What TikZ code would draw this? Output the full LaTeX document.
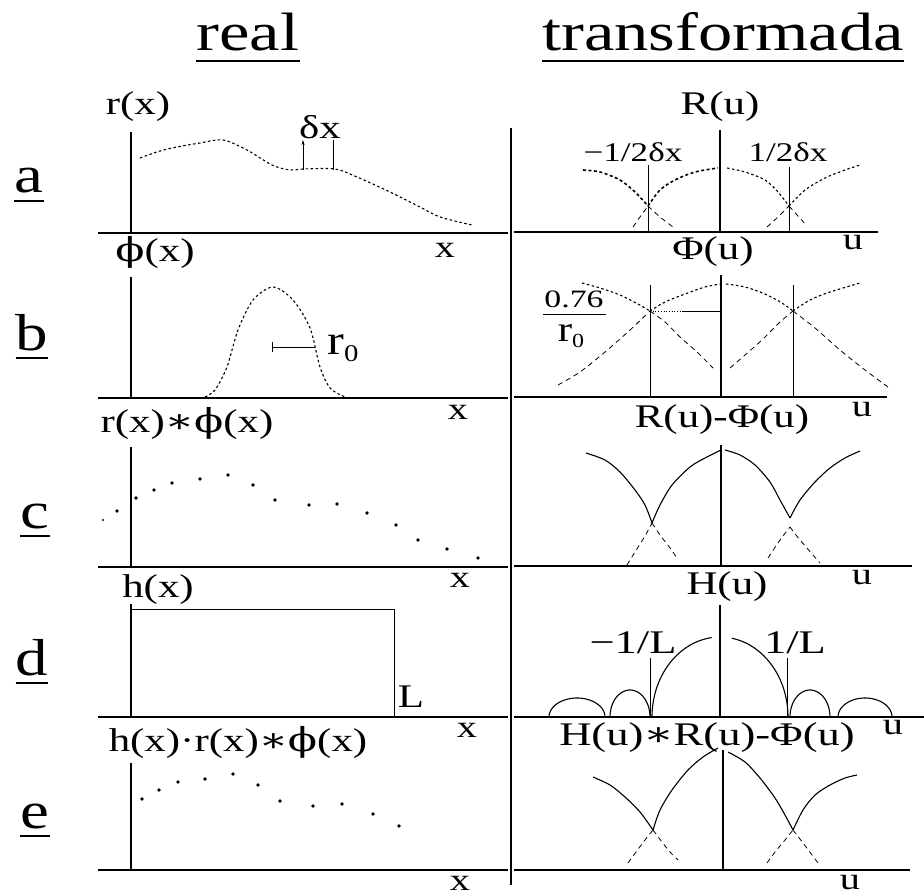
\documentclass[tikz,border=0pt]{standalone}
\usepackage{graphicx}
\usepackage{fontspec}
\setmainfont{Liberation Serif}
\newfontfamily\djs{DejaVu Serif}
\usetikzlibrary{arrows.meta}
\newcommand{\hs}[2][1.3]{\scalebox{#1}[1]{#2}}
\newcommand{\cv}{{\djs\char"2217}}
\newcommand{\sphi}{{\djs\char"03D5}}
\begin{document}
\begin{tikzpicture}[x=1pt,y=-1pt,
  haxis/.style={line width=2.2pt},
  vaxis/.style={line width=2.8pt},
  thinl/.style={line width=0.7pt},
  dotc/.style={line width=1.1pt, dash pattern=on 2.5pt off 2.5pt},
  dotcb/.style={line width=1.6pt, dash pattern=on 3pt off 2.5pt},
  dashc/.style={line width=0.8pt, dash pattern=on 5pt off 4pt},
  solc/.style={line width=1.1pt},
  lbl/.style={inner sep=0pt, font=\fontsize{33}{36}\selectfont},
  axl/.style={inner sep=0pt, font=\fontsize{31}{33}\selectfont},
  small/.style={inner sep=0pt, font=\fontsize{27}{30}\selectfont},
  rowl/.style={inner sep=0pt, anchor=base, font=\fontsize{52}{56}\selectfont},
  ttl/.style={inner sep=0pt, anchor=base, font=\fontsize{54}{60}\selectfont},
  uline/.style={line width=2pt}
]
\useasboundingbox (0,0) rectangle (924,896);
\fill[white] (0,0) rectangle (924,896);

% titles
\node[ttl] (treal) at (248,51) {\hs[1.27]{real}};
\node[ttl] (ttrans) at (723,51) {\hs[1.27]{transformada}};
\draw[uline] ([yshift=-10pt]treal.base west) -- ([yshift=-10pt]treal.base east);
\draw[uline] ([yshift=-10pt]ttrans.base west) -- ([yshift=-10pt]ttrans.base east);

% row letters
\foreach \n/\t/\yy/\xx in {ra/a/193/29, rb/b/350/32, rc/c/528/35, rd/d/675/32, re/e/828/35}{
  \node[rowl] (\n) at (\xx,\yy) {\hs[1.25]{\t}};
  \draw[uline] ([yshift=-8pt]\n.base west) -- ([yshift=-8pt]\n.base east);
}

% divider
\coordinate (dvt) at (511,128);
\coordinate (dvb) at (511,885);
\draw[vaxis] (dvt) -- (dvb);

% ---------- axes ----------
\foreach \n/\ya/\yt in {a/233/132, b/398/277, c/567/447, d/717/604, e/870/763}{
  \coordinate (lh\n0) at (98,\ya);
  \coordinate (lh\n1) at (508,\ya);
  \coordinate (lv\n0) at (131,\ya);
  \coordinate (lv\n1) at (131,\yt);
  \draw[haxis] (lh\n0) -- (lh\n1);
  \draw[vaxis] (lv\n0) -- (lv\n1);
}
\foreach \n/\ya/\yt/\xe/\xv in {a/232/130/878/720, b/397/275/887/721, c/566/445/912/721, d/717/605/924/720, e/870/750/910/723}{
  \coordinate (rh\n0) at (514,\ya);
  \coordinate (rh\n1) at (\xe,\ya);
  \coordinate (rv\n0) at (\xv,\ya);
  \coordinate (rv\n1) at (\xv,\yt);
  \draw[haxis] (rh\n0) -- (rh\n1);
  \draw[vaxis] (rv\n0) -- (rv\n1);
}

% ---------- labels ----------
\node[lbl] (lra) at (138,107) {\hs{r(x)}};
\node[lbl] (lphi) at (155,252) {\hs{\sphi(x)}};
\node[lbl] (lrc) at (187,423) {\hs{r(x)\cv\sphi(x)}};
\node[lbl] (lhx) at (158,590) {\hs{h(x)}};
\node[lbl] (lhe) at (238,742) {\hs{h(x)·r(x)\cv\sphi(x)}};
\node[lbl] (lRu) at (720,107) {\hs{R(u)}};
\node[lbl] (lPh) at (713,252) {\hs{Φ(u)}};
\node[lbl] (lRP) at (722,420) {\hs{R(u)-Φ(u)}};
\node[lbl] (lHu) at (727,587) {\hs{H(u)}};
\node[lbl] (lHR) at (707,738) {\hs[1.35]{H(u)\cv R(u)-Φ(u)}};
\foreach \n/\xx/\yy in {xa/445/250, xb/458/412, xc/460/580, xd/467/730, xe/460/883}
  \node[axl] (\n) at (\xx,\yy) {\hs{x}};
\foreach \n/\xx/\yy in {ua/853/243, ub/862/410, uc/862/578, ud/893/728, ue/850/883}
  \node[axl] (\n) at (\xx,\yy) {\hs{u}};

% ---------- panel a ----------
\draw[dotc] plot[smooth] coordinates {(140,158)(160,151)(177,147)(200,143)(223,140)(247,150)(272,165)(290,170)(303,169)(335,169)(357,177)(390,192)(420,207)(440,217)(472,225)};
\coordinate (dx1b) at (303,170); \coordinate (dx1t) at (303,140);
\coordinate (dx2b) at (333,170); \coordinate (dx2t) at (333,140);
\draw[thinl,-{Stealth[length=5pt,width=3pt]}] (dx1b) -- (dx1t);
\draw[thinl] (dx2b) -- (dx2t);
\node[lbl] (ldx) at (320,127) {\hs{δx}};

\node[small] (lmh) at (633,152) {\hs{−1/2δx}};
\node[small] (lph) at (788,152) {\hs{1/2δx}};
\coordinate (vha0) at (648,232); \coordinate (vha1) at (648,165);
\coordinate (vhb0) at (789,232); \coordinate (vhb1) at (789,167);
\draw[thinl] (vha0) -- (vha1);
\draw[thinl] (vhb0) -- (vhb1);
\draw[dotcb] plot[smooth] coordinates {(583,170)(600,172)(620,180)(635,192)(648,206)};
\draw[dashc] plot[smooth] coordinates {(648,206)(660,217)(673,227)};
\draw[dashc] plot[smooth] coordinates {(633,227)(640,217)(648,206)};
\draw[dotcb] plot[smooth] coordinates {(648,206)(660,190)(675,180)(695,172)(718,168)};
\draw[dotc] plot[smooth] coordinates {(727,168)(745,172)(765,180)(778,192)(789,206)};
\draw[dashc] plot[smooth] coordinates {(789,206)(798,216)(807,226)};
\draw[dashc] plot[smooth] coordinates {(767,227)(778,217)(789,206)};
\draw[dotc] plot[smooth] coordinates {(789,206)(805,190)(825,178)(845,170)(860,165)};

% ---------- panel b ----------
\draw[dotc] plot[smooth] coordinates {(205,397)(215,390)(227,367)(238,330)(253,300)(273,287)(293,300)(310,328)(320,367)(330,388)(345,397)};
\coordinate (r0a) at (272,347); \coordinate (r0b) at (315,347);
\draw[thinl] (r0a) -- (r0b);
\draw[thinl] ([yshift=5pt]r0a) -- ([yshift=-5pt]r0a);
\node[inner sep=0pt, font=\fontsize{42}{44}\selectfont] (lr0) at (343,348) {\hs[1.2]{r\raisebox{-7pt}{\fontsize{24}{24}\selectfont 0}}};

\coordinate (vbl0) at (650,397); \coordinate (vbl1) at (650,285);
\coordinate (vbr0) at (793,397); \coordinate (vbr1) at (793,285);
\draw[thinl] (vbl0) -- (vbl1);
\draw[thinl] (vbr0) -- (vbr1);
\coordinate (hb0) at (650,311); \coordinate (hbm) at (683,311); \coordinate (hb1) at (721,311);
\draw[thinl, dotted] (hb0) -- (hbm);
\draw[thinl] (hbm) -- (hb1);
\node[inner sep=0pt, font=\fontsize{25}{26}\selectfont] (lnum) at (574,299) {\hs[1.35]{0.76}};
\node[inner sep=0pt, font=\fontsize{36}{36}\selectfont] (lden) at (571,336) {\hs[1.2]{r\raisebox{-6pt}{\fontsize{20}{20}\selectfont 0}}};
\coordinate (fb0) at (543,314); \coordinate (fb1) at (606,314);
\draw[line width=1pt] (fb0) -- (fb1);
\draw[dotc] plot[smooth] coordinates {(582,283)(600,288)(620,295)(638,304)(650,311)};
\draw[dashc] plot[smooth] coordinates {(650,311)(665,322)(680,337)(697,352)(713,368)};
\draw[dashc] plot[smooth] coordinates {(558,385)(580,372)(605,352)(630,330)(650,311)};
\draw[dotc] plot[smooth] coordinates {(650,311)(665,302)(685,294)(705,287)(721,284)};
\draw[dotc] plot[smooth] coordinates {(726,284)(745,287)(765,294)(782,303)(793,311)};
\draw[dashc] plot[smooth] coordinates {(793,311)(815,328)(840,350)(865,370)(888,387)};
\draw[dashc] plot[smooth] coordinates {(730,368)(745,355)(762,340)(780,322)(793,311)};
\draw[dotc] plot[smooth] coordinates {(793,311)(810,300)(830,292)(860,283)};

% ---------- panel c ----------
\foreach \xx/\yy in {117/511,136/498,154/490,172/483,200/479,228/475,253/485,275/500,309/505,337/504,367/513,396/525,418/540,447/549,478/558}
  \fill (\xx,\yy) circle[radius=1.8];
\fill (103,520) circle[radius=1.1];
\draw[solc] plot[smooth] coordinates {(586,453)(605,460)(620,472)(635,490)(645,505)(652,523)};
\draw[dashc] plot[smooth] coordinates {(652,523)(660,535)(670,548)(677,558)};
\draw[dashc] plot[smooth] coordinates {(627,565)(635,552)(645,536)(652,523)};
\draw[solc] plot[smooth] coordinates {(652,523)(660,505)(672,485)(690,467)(705,458)(721,450)};
\draw[solc] plot[smooth] coordinates {(725,450)(740,455)(755,465)(770,482)(780,500)(790,518)};
\draw[solc] plot[smooth] coordinates {(790,518)(800,500)(815,482)(830,468)(845,458)(860,451)};
\draw[dashc] plot[smooth] coordinates {(768,558)(780,540)(790,527)};
\draw[dashc] plot[smooth] coordinates {(790,527)(800,540)(820,563)};

% ---------- panel d ----------
\coordinate (rect0) at (131,609); \coordinate (rect1) at (394,609); \coordinate (rect2) at (394,717);
\draw[thinl] (rect0) -- (rect1) -- (rect2);
\node[lbl] (lL) at (411,697) {\hs{L}};

\draw[solc] plot[domain=180:97, samples=40] ({720+68*cos(\x)},{717-80*sin(\x)});
\draw[solc] plot[domain=80:0, samples=40] ({720+68*cos(\x)},{717-80*sin(\x)});
\foreach \c/\r/\h in {630/20/27, 577/28/19, 810/20/27, 865/27/19}
  \draw[solc] plot[domain=180:0, samples=30] ({\c+\r*cos(\x)},{717-\h*sin(\x)});
\coordinate (vdl0) at (650,717); \coordinate (vdl1) at (650,658);
\coordinate (vdr0) at (787,717); \coordinate (vdr1) at (787,658);
\draw[thinl] (vdl1) -- (vdl0);
\draw[thinl] (vdr1) -- (vdr0);
\node[lbl] (lmL) at (633,643) {\hs[1.35]{−1/L}};
\node[lbl] (lpL) at (795,643) {\hs[1.35]{1/L}};

% ---------- panel e ----------
\foreach \xx/\yy in {142/799,159/790,178/782,205/779,233/774,258/785,280/801,313/806,342/804,373/814,399/826}
  \fill (\xx,\yy) circle[radius=1.8];
\draw[solc] plot[smooth] coordinates {(593,777)(610,785)(625,797)(640,812)(653,830)};
\draw[dashc] plot[smooth] coordinates {(653,830)(662,842)(670,852)(678,860)};
\draw[dashc] plot[smooth] coordinates {(628,863)(636,852)(645,840)(653,830)};
\draw[solc] plot[smooth] coordinates {(653,830)(660,810)(672,790)(688,770)(703,757)(718,748)};
\draw[solc] plot[smooth] coordinates {(728,752)(745,762)(760,778)(775,798)(785,815)(793,830)};
\draw[dashc] plot[smooth] coordinates {(793,830)(803,843)(812,855)(818,863)};
\draw[dashc] plot[smooth] coordinates {(767,863)(775,852)(785,840)(793,830)};
\draw[solc] plot[smooth] coordinates {(793,830)(803,810)(815,795)(830,785)(845,778)(857,775)};
\end{tikzpicture}
\end{document}
